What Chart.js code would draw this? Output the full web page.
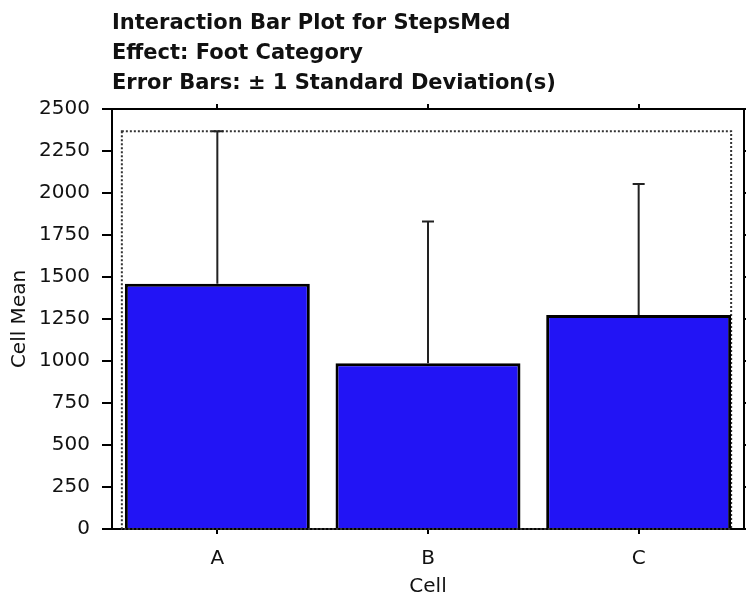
<!DOCTYPE html>
<html lang="en">
<head>
    <meta charset="UTF-8">
    <title>Interaction Bar Plot for StepsMed</title>
    <script src="https://cdn.jsdelivr.net/npm/chart.js"></script>
    <style>
        html, body {
            margin: 0;
            padding: 0;
            background-color: #ffffff;
        }
        #wrap {
            width: 746px;
            height: 599px;
        }
    </style>
</head>
<body>
    <div id="wrap">
        <canvas id="barChart" width="746" height="599"></canvas>
    </div>

    <script>
        // values
        const cells = ['A', 'B', 'C'];
        const cellMeans = [1460, 987, 1274];
        const cellSDs = [907, 843, 780];
        const yTicks = [0, 250, 500, 750, 1000, 1250, 1500, 1750, 2000, 2250, 2500];

        const titleLines = [
            'Interaction Bar Plot for StepsMed',
            'Effect: Foot Category',
            'Error Bars: \u00b1 1 Standard Deviation(s)'
        ];

        const FONT = "'DejaVu Sans', 'Liberation Sans', Arial, sans-serif";

        // +1 SD whiskers and the dotted range box behind the bars
        const errorBars = {
            id: 'errorBars',
            beforeDatasetsDraw(chart) {
                const meta = chart.getDatasetMeta(0);
                const y = chart.scales.y;
                const first = meta.data[0];
                const last = meta.data[meta.data.length - 1];
                const top = y.getPixelForValue(Math.max(...cellMeans.map((m, i) => m + cellSDs[i])));
                const bottom = y.getPixelForValue(0);
                const left = first.x - first.width / 2 - 3;
                const right = last.x + last.width / 2;
                const ctx = chart.ctx;
                ctx.save();
                ctx.strokeStyle = '#333';
                ctx.lineWidth = 2;
                ctx.setLineDash([2, 2]);
                ctx.strokeRect(left, top, right - left, bottom - top);
                ctx.restore();
            },
            afterDatasetsDraw(chart) {
                const meta = chart.getDatasetMeta(0);
                const y = chart.scales.y;
                const ctx = chart.ctx;
                ctx.save();
                ctx.strokeStyle = '#222';
                ctx.lineWidth = 2;
                meta.data.forEach((bar, i) => {
                    const yTop = y.getPixelForValue(cellMeans[i] + cellSDs[i]);
                    ctx.beginPath();
                    ctx.moveTo(bar.x, bar.y);
                    ctx.lineTo(bar.x, yTop);
                    ctx.moveTo(bar.x - 6, yTop);
                    ctx.lineTo(bar.x + 6, yTop);
                    ctx.stroke();
                });
                ctx.restore();
            }
        };

        const ctx = document.getElementById('barChart').getContext('2d');
        const barChart = new Chart(ctx, {
            type: 'bar',
            data: {
                labels: cells,
                datasets: [{
                    data: cellMeans,
                    backgroundColor: '#2214f5',
                    borderColor: '#000000',
                    borderWidth: 3,
                    categoryPercentage: 1.0,
                    barPercentage: 0.878
                }]
            },
            plugins: [errorBars],
            options: {
                responsive: false,
                animation: false,
                layout: {
                    padding: { left: 0, right: 0, top: 0, bottom: 0 }
                },
                plugins: {
                    legend: { display: false },
                    tooltip: { enabled: false },
                    title: {
                        display: true,
                        text: titleLines,
                        align: 'start',
                        fullSize: false,
                        color: '#111',
                        font: { family: FONT, size: 21, weight: 'bold', lineHeight: 1.4286 },
                        padding: { top: 9, bottom: 10 }
                    }
                },
                scales: {
                    x: {
                        position: 'bottom',
                        grid: {
                            offset: false,
                            drawOnChartArea: false,
                            tickLength: 5,
                            color: '#000',
                            lineWidth: 2
                        },
                        border: { color: '#000', width: 2 },
                        ticks: {
                            color: '#111',
                            padding: 13,
                            font: { family: FONT, size: 20 }
                        },
                        title: {
                            display: true,
                            text: 'Cell',
                            color: '#111',
                            font: { family: FONT, size: 20 },
                            padding: { top: 6, bottom: 0 }
                        },
                        afterFit(scale) { scale.height = 70; }
                    },
                    x2: {
                        type: 'category',
                        labels: cells,
                        position: 'top',
                        grid: {
                            offset: false,
                            drawOnChartArea: false,
                            tickLength: 5,
                            color: '#000',
                            lineWidth: 2
                        },
                        border: { color: '#000', width: 2 },
                        ticks: { display: false },
                        afterFit(scale) { scale.height = 0; }
                    },
                    y: {
                        min: 0,
                        max: 2500,
                        afterBuildTicks(scale) {
                            scale.ticks = yTicks.map(v => ({ value: v }));
                        },
                        grid: {
                            drawOnChartArea: false,
                            tickLength: 10,
                            color: '#000',
                            lineWidth: 2
                        },
                        border: { color: '#000', width: 2 },
                        ticks: {
                            color: '#111',
                            padding: 12,
                            font: { family: FONT, size: 20 },
                            callback: v => String(v)
                        },
                        title: {
                            display: true,
                            text: 'Cell Mean',
                            color: '#111',
                            font: { family: FONT, size: 20 },
                            padding: { top: 8, bottom: 0 }
                        },
                        afterFit(scale) { scale.width = 112; }
                    },
                    y2: {
                        position: 'right',
                        min: 0,
                        max: 2500,
                        afterBuildTicks(scale) {
                            scale.ticks = yTicks.map(v => ({ value: v }));
                        },
                        grid: {
                            drawOnChartArea: false,
                            tickLength: 3,
                            color: '#000',
                            lineWidth: 2
                        },
                        border: { color: '#000', width: 2 },
                        ticks: { display: false },
                        afterFit(scale) { scale.width = 2; }
                    }
                }
            }
        });
    </script>
</body>
</html>
